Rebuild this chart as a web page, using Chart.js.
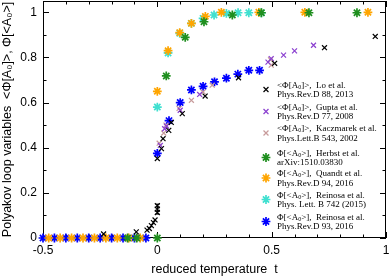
<!DOCTYPE html>
<html>
<head>
<meta charset="utf-8">
<script src="https://cdn.jsdelivr.net/npm/chart.js@4.4.1/dist/chart.umd.min.js"></script>
<style>
  html, body { margin: 0; padding: 0; background: #fff; }
  #wrap { position: relative; width: 390px; height: 277px; }
  #legend { position: absolute; left: 0; top: 0; font-family: 'Liberation Serif', 'Times New Roman', serif; font-size: 9px; color: #000; }
  #legend div { position: absolute; white-space: nowrap; line-height: 9px; }
  #legend sub { font-size: 6px; vertical-align: -1px; line-height: 0; }
</style>
</head>
<body>
<div id="wrap"><canvas id="chart" width="390" height="277"></canvas><div id="legend"></div></div>
<script>
// data
const xTicks = [-0.5, 0, 0.5, 1];
const yTicks = [0, 0.2, 0.4, 0.6, 0.8, 1];

const loX = [-0.235, -0.092, -0.045, -0.035, -0.026, -0.017, -0.01, 0, 0, 0, 0, 0.018, 0.025, 0.05, 0.061, 0.109, 0.209, 0.355, 0.513, 0.731, 0.953];
const loY = [0.018, 0.027, 0.035, 0.042, 0.055, 0.068, 0.08, 0.113, 0.128, 0.143, 0.352, 0.396, 0.44, 0.477, 0.512, 0.551, 0.629, 0.71, 0.774, 0.843, 0.893];
const loErr = [0, 0, 0, 0, 0, 0, 0, 0, 0.022, 0, 0, 0, 0, 0, 0, 0, 0, 0, 0, 0, 0];

const guptaX = [0.013, 0.032, 0.04, 0.1, 0.185, 0.484, 0.498, 0.552, 0.6, 0.683];
const guptaY = [0.41, 0.484, 0.495, 0.566, 0.636, 0.779, 0.795, 0.81, 0.829, 0.854];

const kaczX = [0.008, 0.028, 0.038, 0.095, 0.149, 0.2, 0.24, 0.498, 0.495];
const kaczY = [0.42, 0.465, 0.5, 0.574, 0.61, 0.647, 0.677, 0.766, 0.79];

const herbstX = [-0.13, -0.09, 0, 0.039, 0.122, 0.204, 0.328, 0.455, 0.663, 0.873];
const herbstY = [0, 0, 0, 0.718, 0.889, 0.958, 0.988, 0.998, 0.998, 0.998];

const quandtX = [-0.475, -0.425, -0.375, -0.325, -0.275, -0.225, -0.175, -0.125, -0.075, 0, 0.047, 0.098, 0.149, 0.21, 0.28, 0.444, 0.645, 0.921];
const quandtY = [0, 0, 0, 0, 0, 0, 0, 0, 0, 0.65, 0.83, 0.91, 0.951, 0.982, 1, 1, 1, 1];

const rein15X = [0, 0.047, 0.098, 0.149, 0.2, 0.248, 0.302, 0.353, 0.4, 0.455];
const rein15Y = [0.58, 0.82, 0.907, 0.951, 0.973, 0.988, 0.995, 0.998, 0.998, 0.998];

const rein16X = [-0.5, -0.45, -0.4, -0.35, -0.3, -0.25, -0.2, -0.15, -0.1, -0.05, 0, 0.051, 0.1, 0.149, 0.2, 0.25, 0.302, 0.352, 0.4, 0.447];
const rein16Y = [0, 0, 0, 0, 0, 0, 0, 0, 0, 0, 0.375, 0.52, 0.6, 0.656, 0.672, 0.692, 0.708, 0.726, 0.743, 0.743];

const legendLines = [
  ['&lt;Φ[A<sub>0</sub>]&gt;,&nbsp; Lo et al.', 'Phys.Rev.D 88, 2013'],
  ['&lt;Φ[A<sub>0</sub>]&gt;,&nbsp; Gupta et al.', 'Phys.Rev.D 77, 2008'],
  ['&lt;Φ[A<sub>0</sub>]&gt;,&nbsp; Kaczmarek et al.', 'Phys.Lett.B 543, 2002'],
  ['Φ[&lt;A<sub>0</sub>&gt;],&nbsp; Herbst et al.', 'arXiv:1510.03830'],
  ['Φ[&lt;A<sub>0</sub>&gt;],&nbsp; Quandt et al.', 'Phys.Rev.D 94, 2016'],
  ['Φ[&lt;A<sub>0</sub>&gt;],&nbsp; Reinosa et al.', 'Phys. Lett. B 742 (2015)'],
  ['Φ[&lt;A<sub>0</sub>&gt;],&nbsp; Reinosa et al.', 'Phys.Rev.D 93, 2016']
];

function pts(xs, ys) {
  return xs.map((x, i) => ({ x: x, y: ys[i] }));
}

function makeSet(label, xs, ys, color, style) {
  const star = style === 'star';
  return {
    label: label,
    data: pts(xs, ys),
    borderColor: color,
    backgroundColor: color,
    pointStyle: star ? 'star' : 'crossRot',
    pointRadius: star ? 4.4 : 3.5,
    pointBorderWidth: star ? 1.7 : 1.2,
    showLine: false,
    clip: false
  };
}

const datasets = [
  makeSet('Lo', loX, loY, '#000000', 'x'),
  makeSet('Gupta', guptaX, guptaY, '#8a3fcf', 'x'),
  makeSet('Kaczmarek', kaczX, kaczY, '#c79a9a', 'x'),
  makeSet('Herbst', herbstX, herbstY, '#1f8f1f', 'star'),
  makeSet('Quandt', quandtX, quandtY, '#ffa500', 'star'),
  makeSet('Reinosa 2015', rein15X, rein15Y, '#40e0d0', 'star'),
  makeSet('Reinosa 2016', rein16X, rein16Y, '#0000ff', 'star')
];

// legend rows (centre of first line)
const legendTop = [85, 107, 128.5, 153, 173.5, 195, 217];

function drawMark(ctx, style, color, x, y, r, w) {
  ctx.save();
  ctx.strokeStyle = color;
  ctx.lineWidth = w;
  ctx.beginPath();
  if (style === 'star') {
    ctx.moveTo(x - r, y); ctx.lineTo(x + r, y);
    ctx.moveTo(x, y - r); ctx.lineTo(x, y + r);
  }
  const d = r * Math.SQRT1_2;
  ctx.moveTo(x - d, y - d); ctx.lineTo(x + d, y + d);
  ctx.moveTo(x - d, y + d); ctx.lineTo(x + d, y - d);
  ctx.stroke();
  ctx.restore();
}

const frame = {
  id: 'frame',
  beforeDatasetsDraw(chart) {
    const ctx = chart.ctx;
    const a = chart.chartArea;
    const xs = chart.scales.x, ys = chart.scales.y;
    ctx.save();
    ctx.strokeStyle = '#000';
    ctx.lineWidth = 1;
    ctx.strokeRect(a.left + 0.5, a.top + 0.5, a.right - a.left - 1, a.bottom - a.top - 1);
    ctx.beginPath();
    for (let i = -5; i <= 10; i++) {
      const v = i / 10;
      const len = i % 5 === 0 ? 6 : 3.5;
      const px = Math.round(xs.getPixelForValue(v)) + 0.5;
      ctx.moveTo(px, a.bottom); ctx.lineTo(px, a.bottom - len);
      ctx.moveTo(px, a.top); ctx.lineTo(px, a.top + len);
    }
    for (let i = 0; i <= 10; i++) {
      const v = i / 10;
      const len = i % 2 === 0 ? 6 : 3.5;
      const py = Math.round(ys.getPixelForValue(v)) + 0.5;
      ctx.moveTo(a.left, py); ctx.lineTo(a.left + len, py);
      ctx.moveTo(a.right, py); ctx.lineTo(a.right - len, py);
    }
    ctx.stroke();
    ctx.restore();
  },
  afterDatasetsDraw(chart) {
    const ctx = chart.ctx;
    const xs = chart.scales.x, ys = chart.scales.y;
    // error bars of Lo et al.
    ctx.save();
    ctx.strokeStyle = '#000';
    ctx.lineWidth = 1;
    ctx.beginPath();
    loErr.forEach((e, i) => {
      if (!e) return;
      const px = Math.round(xs.getPixelForValue(loX[i])) + 0.5;
      const y1 = ys.getPixelForValue(loY[i] - e);
      const y2 = ys.getPixelForValue(loY[i] + e);
      ctx.moveTo(px, y1); ctx.lineTo(px, y2);
      ctx.moveTo(px - 2, y1); ctx.lineTo(px + 2, y1);
      ctx.moveTo(px - 2, y2); ctx.lineTo(px + 2, y2);
    });
    ctx.stroke();
    ctx.restore();
    // legend symbols
    datasets.forEach((ds, i) => {
      const style = ds.pointStyle === 'star' ? 'star' : 'x';
      drawMark(ctx, style, ds.borderColor, 266, legendTop[i] + 4.5, ds.pointRadius, ds.pointBorderWidth);
    });
  }
};

const legend = document.getElementById('legend');
legendLines.forEach((l, i) => {
  const a = document.createElement('div');
  a.style.left = '277px';
  a.style.top = (legendTop[i] - 4.5) + 'px';
  a.innerHTML = l[0];
  const b = document.createElement('div');
  b.style.left = '277px';
  b.style.top = (legendTop[i] + 5) + 'px';
  b.innerHTML = l[1];
  legend.appendChild(a);
  legend.appendChild(b);
});

const fmt = v => String(Math.round(v * 10) / 10);

new Chart(document.getElementById('chart'), {
  type: 'scatter',
  data: { datasets: datasets },
  options: {
    responsive: false,
    animation: false,
    layout: { autoPadding: false, padding: { top: 1, right: 4, left: 0, bottom: 0 } },
    plugins: { legend: { display: false }, tooltip: { enabled: false } },
    scales: {
      x: {
        type: 'linear',
        min: -0.5,
        max: 1,
        afterBuildTicks: s => { s.ticks = xTicks.map(v => ({ value: v })); },
        afterFit: s => { s.height = 39; s.paddingLeft = 0; s.paddingRight = 0; },
        grid: { display: false, drawTicks: false },
        border: { display: false },
        ticks: { callback: fmt, padding: 5, color: '#000', maxRotation: 0, font: { family: 'Liberation Sans', size: 12 } },
        title: { display: true, text: 'reduced temperature  t', color: '#000', padding: { top: 0, bottom: 0 }, font: { family: 'Liberation Sans', size: 12.5 } }
      },
      y: {
        type: 'linear',
        min: 0,
        max: 1.05,
        afterBuildTicks: s => { s.ticks = yTicks.map(v => ({ value: v })); },
        afterFit: s => { s.width = 43; s.paddingTop = 0; s.paddingBottom = 0; },
        grid: { display: false, drawTicks: false },
        border: { display: false },
        ticks: { callback: fmt, padding: 6, color: '#000', font: { family: 'Liberation Sans', size: 12 } },
        title: { display: true, text: 'Polyakov loop variables  <Φ[A₀]>, Φ[<A₀>]', color: '#000', padding: { top: 0, bottom: 0 }, font: { family: 'Liberation Sans', size: 12.5 } }
      }
    }
  },
  plugins: [frame]
});
</script>
</body>
</html>
